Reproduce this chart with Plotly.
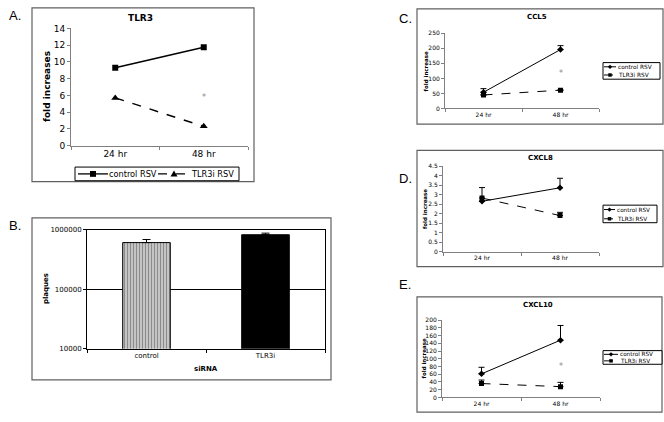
import plotly.graph_objects as go

W, H = 664, 422

# ---------------- data ----------------
times = ["24 hr", "48 hr"]
series_names = ["control RSV", "TLR3i RSV"]

tlr3_control = [9.3, 11.75]
tlr3_tlr3i = [5.7, 2.3]
tlr3_star = 5.8

sirna = ["control", "TLR3i"]
plaques = [604000, 818000]
plaques_err = [76000, 52000]

ccl5_control = [54, 196]
ccl5_control_err = [12, 13]
ccl5_tlr3i = [45, 61]
ccl5_tlr3i_err = [0, 0]
ccl5_star = 117

cxcl8_control = [2.65, 3.36]
cxcl8_control_err = [0, 0.5]
cxcl8_tlr3i = [2.82, 1.9]
cxcl8_tlr3i_err = [0.55, 0.17]

cxcl10_control = [61, 148]
cxcl10_control_err = [17, 38]
cxcl10_tlr3i = [36, 28]
cxcl10_tlr3i_err = [9, 11]
cxcl10_star = 81

FONT = "DejaVu Sans"


def dx(x0, x1):
    return [x0 / W, x1 / W]


def dy(y0, y1):
    return [1 - y1 / H, 1 - y0 / H]


def px(x):
    return x / W


def py(y):
    return 1 - y / H


fig = go.Figure()

# ---------------- Panel A ----------------
fig.add_trace(go.Scatter(x=times, y=tlr3_control, name=series_names[0], mode="lines+markers",
                         line=dict(color="black", width=1.5),
                         marker=dict(symbol="square", size=6, color="black"),
                         xaxis="x", yaxis="y", showlegend=False))
fig.add_trace(go.Scatter(x=times, y=tlr3_tlr3i, name=series_names[1], mode="lines+markers",
                         line=dict(color="black", width=1.5, dash="dash"),
                         marker=dict(symbol="triangle-up", size=7, color="black"),
                         xaxis="x", yaxis="y", showlegend=False))

# ---------------- Panel B ----------------
fig.add_trace(go.Bar(x=sirna, y=plaques, width=0.4,
                     marker=dict(color=["#c4c4c4", "black"],
                                 pattern=dict(shape=["|", ""], fgcolor="#8e8e8e", size=3, solidity=0.3),
                                 line=dict(color="black", width=1)),
                     error_y=dict(type="data", symmetric=False, array=plaques_err, arrayminus=[0, 0],
                                  color="black", thickness=1, width=4),
                     showlegend=False, xaxis="x2", yaxis="y2"))


def cyto(ctrl, ctrl_err, tlr, tlr_err, ax):
    fig.add_trace(go.Scatter(x=times, y=ctrl, name=series_names[0], mode="lines+markers",
                             line=dict(color="black", width=1),
                             marker=dict(symbol="diamond", size=5, color="black"),
                             error_y=dict(type="data", symmetric=False, array=ctrl_err, arrayminus=[0, 0],
                                          color="black", thickness=1, width=3),
                             xaxis="x" + ax, yaxis="y" + ax, showlegend=False))
    fig.add_trace(go.Scatter(x=times, y=tlr, name=series_names[1], mode="lines+markers",
                             line=dict(color="black", width=1, dash="dash"),
                             marker=dict(symbol="square", size=5, color="black"),
                             error_y=dict(type="data", symmetric=False, array=tlr_err, arrayminus=[0, 0],
                                          color="black", thickness=1, width=3),
                             xaxis="x" + ax, yaxis="y" + ax, showlegend=False))


cyto(ccl5_control, ccl5_control_err, ccl5_tlr3i, ccl5_tlr3i_err, "3")
cyto(cxcl8_control, cxcl8_control_err, cxcl8_tlr3i, cxcl8_tlr3i_err, "4")
cyto(cxcl10_control, cxcl10_control_err, cxcl10_tlr3i, cxcl10_tlr3i_err, "5")

AX = dict(showline=True, linecolor="#808080", linewidth=1, ticks="outside", ticklen=3,
          tickcolor="#808080", showgrid=False, zeroline=False, fixedrange=True)


def xcat(domain, size, anchor):
    d = dict(AX)
    d.update(domain=domain, anchor=anchor, type="category", range=[-0.5, 1.5],
             tickson="boundaries", tickfont=dict(family=FONT, size=size, color="black"))
    return d


def ylin(domain, size, rng, dtick, anchor):
    d = dict(AX)
    d.update(domain=domain, anchor=anchor, range=rng, dtick=dtick,
             tickfont=dict(family=FONT, size=size, color="black"))
    return d


layout = dict(
    width=W, height=H, margin=dict(l=0, r=0, t=0, b=0),
    paper_bgcolor="white", plot_bgcolor="white", showlegend=False,
    font=dict(family=FONT, color="black"),
    xaxis=xcat(dx(71, 248), 9, "y"),
    yaxis=ylin(dy(24, 144), 9, [0, 14], 2, "x"),
    xaxis3=xcat(dx(445, 599), 6, "y3"),
    yaxis3=ylin(dy(29, 106), 6, [0, 250], 50, "x3"),
    xaxis4=xcat(dx(443, 599), 6, "y4"),
    yaxis4=ylin(dy(165, 252.7), 6, [0, 4.5], 0.5, "x4"),
    xaxis5=xcat(dx(442, 600), 6, "y5"),
    yaxis5=ylin(dy(322.7, 402), 6, [0, 200], 20, "x5"),
)

xb = xcat(dx(87, 325), 7, "y2")
xb.update(linecolor="black", mirror=True, tickcolor="black")
yb = dict(AX)
yb.update(domain=dy(230, 352), anchor="x2", type="log", range=[4, 6],
          tickvals=[1e4, 1e5, 1e6], ticktext=["10000", "100000", "1000000"],
          showgrid=True, gridcolor="black", gridwidth=1, linecolor="black", mirror=True,
          tickcolor="black", tickfont=dict(family=FONT, size=7, color="black"))
layout["xaxis2"] = xb
layout["yaxis2"] = yb
fig.update_layout(**layout)

# ---------------- boxes ----------------
boxes = [(32, 3, 254, 181), (32, 218, 331, 384), (417, 4, 663, 122), (417, 149, 663, 268), (417, 299, 662, 417)]
for (x0, y0, x1, y1) in boxes:
    fig.add_shape(type="rect", xref="paper", yref="paper", x0=px(x0), x1=px(x1), y0=py(y1), y1=py(y0),
                  line=dict(color="#606060", width=1.2), layer="below")


# ---------------- texts ----------------
def ann(x, y, text, size, bold=False, angle=0, xanchor="center", family=None):
    fig.add_annotation(x=px(x), y=py(y), xref="paper", yref="paper", text=("<b>%s</b>" % text) if bold else text,
                       showarrow=False, textangle=angle, xanchor=xanchor, yanchor="middle", borderpad=0,
                       font=dict(family=family or FONT, size=size, color="black"))


# ---------------- hand-drawn legends (Excel style) ----------------
def marker(kind, cx, cy, s):
    if kind == "square":
        fig.add_shape(type="rect", xref="paper", yref="paper", x0=px(cx - s / 2), x1=px(cx + s / 2),
                      y0=py(cy + s / 2), y1=py(cy - s / 2), fillcolor="black", line=dict(width=0))
    elif kind == "diamond":
        path = "M %f,%f L %f,%f L %f,%f L %f,%f Z" % (px(cx), py(cy - s), px(cx + s), py(cy),
                                                       px(cx), py(cy + s), px(cx - s), py(cy))
        fig.add_shape(type="path", xref="paper", yref="paper", path=path, fillcolor="black", line=dict(width=0))
    else:
        path = "M %f,%f L %f,%f L %f,%f Z" % (px(cx), py(cy - s), px(cx + s), py(cy + s * 0.75),
                                               px(cx - s), py(cy + s * 0.75))
        fig.add_shape(type="path", xref="paper", yref="paper", path=path, fillcolor="black", line=dict(width=0))


def legend_item(x0, x1, y, dash, kind, s, tx, text, size, lw=1):
    fig.add_shape(type="line", xref="paper", yref="paper", x0=px(x0), x1=px(x1), y0=py(y), y1=py(y),
                  line=dict(color="black", width=lw, dash=dash))
    marker(kind, (x0 + x1) / 2, y, s)
    ann(tx, y, text, size, xanchor="left")


def legend_box(x0, y0, x1, y1):
    fig.add_shape(type="rect", xref="paper", yref="paper", x0=px(x0), x1=px(x1), y0=py(y1), y1=py(y0),
                  line=dict(color="black", width=1), fillcolor="white")


legend_box(75, 166, 239, 180)
legend_item(78, 108, 173, "solid", "square", 6, 108, series_names[0], 8.2, lw=1.3)
legend_item(158, 190, 173, "dash", "triangle", 3.5, 190, series_names[1], 8.2, lw=1.3)

for (bx0, by0, bx1, by1, r1, r2, lx0, lx1, tx, fs) in [
        (603, 59, 660, 76, 63.3, 71.7, 604, 616, 617, 5.8),
        (603, 205, 657, 223, 209.5, 219, 604, 615, 616, 5.7),
        (603, 354, 662, 368, 357.8, 364.5, 604, 618, 619, 5.7)]:
    legend_box(bx0, by0, bx1, by1)
    legend_item(lx0, lx1, r1, "solid", "diamond", 2.2, tx, series_names[0], fs)
    legend_item(lx0, lx1, r2, "dash", "square", 3.5, tx, series_names[1], fs)

ann(15, 11, "A.", 13, family="Liberation Sans")
ann(15, 226, "B.", 13, family="Liberation Sans")
ann(405, 14, "C.", 13, family="Liberation Sans")
ann(405, 178, "D.", 13, family="Liberation Sans")
ann(405, 286, "E.", 13, family="Liberation Sans")

ann(140, 13, "TLR3", 9, bold=True)
ann(47, 84, "fold increases", 9, bold=True, angle=-90)
ann(46, 291, "plaques", 7, bold=True, angle=-90)
ann(206, 373, "siRNA", 7, bold=True)
ann(537, 12, "CCL5", 7, bold=True)
ann(540, 157, "CXCL8", 7, bold=True)
ann(538, 307, "CXCL10", 7, bold=True)
ann(426, 68, "fold increase", 5.5, bold=True, angle=-90)
ann(425, 209, "fold increase", 5.5, bold=True, angle=-90)
ann(424, 362, "fold increase", 5.5, bold=True, angle=-90)

# significance asterisks at 48 hr
for ax, yv in (("", tlr3_star), ("3", ccl5_star), ("5", cxcl10_star)):
    fig.add_annotation(x="48 hr", y=yv, xref="x" + ax, yref="y" + ax, text="*", showarrow=False,
                       font=dict(family=FONT, size=8, color="#888888"))

fig.write_html("out.html", config={"displayModeBar": False, "staticPlot": True},
               post_script="document.body.style.margin='0';document.body.style.overflow='hidden';")
